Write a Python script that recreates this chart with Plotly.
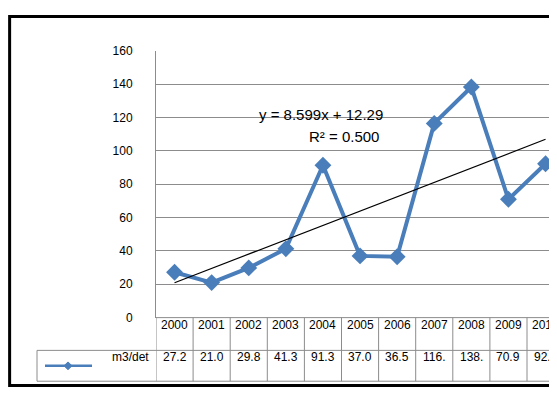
import plotly.graph_objects as go

years = ["2000", "2001", "2002", "2003", "2004", "2005", "2006", "2007", "2008", "2009", "2010"]
values = [27.2, 21.0, 29.8, 41.3, 91.3, 37.0, 36.5, 116.4, 138.2, 70.9, 92.2]
cell_labels = ["27.2", "21.0", "29.8", "41.3", "91.3", "37.0", "36.5", "116.", "138.", "70.9", "92.2"]
slope, intercept = 8.599, 12.29

# the page adds an 8px body margin, so the figure is 16px smaller than the window
W, H = 541, 386
def py(p):
    return (H - (p - 8)) / H
def px(p):
    return (p - 8) / W

blue = "#4a7ebb"
idx = list(range(len(years)))
trend = [slope * (i + 1) + intercept for i in idx]
plot_left, col_w = 156, 37.1
x_max = -0.5 + (W + 8 - plot_left) / col_w

fig = go.Figure()
fig.add_trace(go.Scatter(x=idx, y=values, mode="lines+markers",
                         line=dict(color=blue, width=4),
                         marker=dict(symbol="diamond", size=13, color=blue)))
fig.add_trace(go.Scatter(x=idx, y=trend, mode="lines", line=dict(color="black", width=1.2)))

font = dict(family="Liberation Sans, Arial", size=12, color="black")
shapes, annots = [], []
# outer frame
shapes.append(dict(type="rect", xref="paper", yref="paper", x0=0.003, x1=1.05, y0=0.004, y1=0.996,
                   line=dict(color="black", width=3)))
# table lines
gray = "#8c8c8c"
for yy in (322, 356, 388):
    x0 = plot_left if yy == 322 else 37
    shapes.append(dict(type="line", xref="paper", yref="paper", x0=px(x0), x1=1, y0=py(yy), y1=py(yy),
                       line=dict(color=gray, width=1)))
shapes.append(dict(type="line", xref="paper", yref="paper", x0=px(37), x1=px(37), y0=py(356), y1=py(388),
                   line=dict(color=gray, width=1)))
for i in idx:
    shapes.append(dict(type="line", xref="x", yref="paper", x0=i - 0.5, x1=i - 0.5, y0=py(388), y1=py(322),
                       line=dict(color=gray, width=1)))
    annots.append(dict(x=i, xref="x", y=py(339), yref="paper", text=years[i], showarrow=False, font=font))
    annots.append(dict(x=i, xref="x", y=py(372), yref="paper", text=cell_labels[i], showarrow=False, font=font))
# legend key in table
shapes.append(dict(type="line", xref="paper", yref="paper", x0=px(45), x1=px(92), y0=py(372), y1=py(372),
                   line=dict(color=blue, width=2.5)))
shapes.append(dict(type="path", xref="paper", yref="paper", fillcolor=blue, line=dict(color=blue, width=1),
                   path=f"M {px(64)},{py(372)} L {px(68)},{py(368)} L {px(72)},{py(372)} L {px(68)},{py(376)} Z"))
annots.append(dict(x=px(151), xref="paper", y=py(372), yref="paper", text="m3/det", showarrow=False,
                   xanchor="right", font=font))
# equation
eqfont = dict(family="Liberation Sans, Arial", size=15, color="black")
annots.append(dict(x=px(321), xref="paper", y=py(100), yref="paper",
                   text=f"y = {slope}x + {intercept}", showarrow=False, font=eqfont))
annots.append(dict(x=px(344), xref="paper", y=py(123), yref="paper",
                   text="R² = 0.500", showarrow=False, font=eqfont))

fig.update_layout(
    width=W, height=H, margin=dict(l=0, r=0, t=0, b=0),
    paper_bgcolor="white", plot_bgcolor="white", showlegend=False,
    shapes=shapes, annotations=annots,
    xaxis=dict(domain=[px(plot_left), 1], range=[-0.5, x_max], showticklabels=False, showgrid=False,
               zeroline=False, fixedrange=True),
    yaxis=dict(domain=[py(322), py(45)], range=[0, 160], dtick=20, tickfont=font,
               gridcolor="#8c8c8c", gridwidth=1, showline=True, linecolor=gray, zeroline=False,
               ticks="", ticklabelstandoff=20),
)
fig.write_html("out.html")
